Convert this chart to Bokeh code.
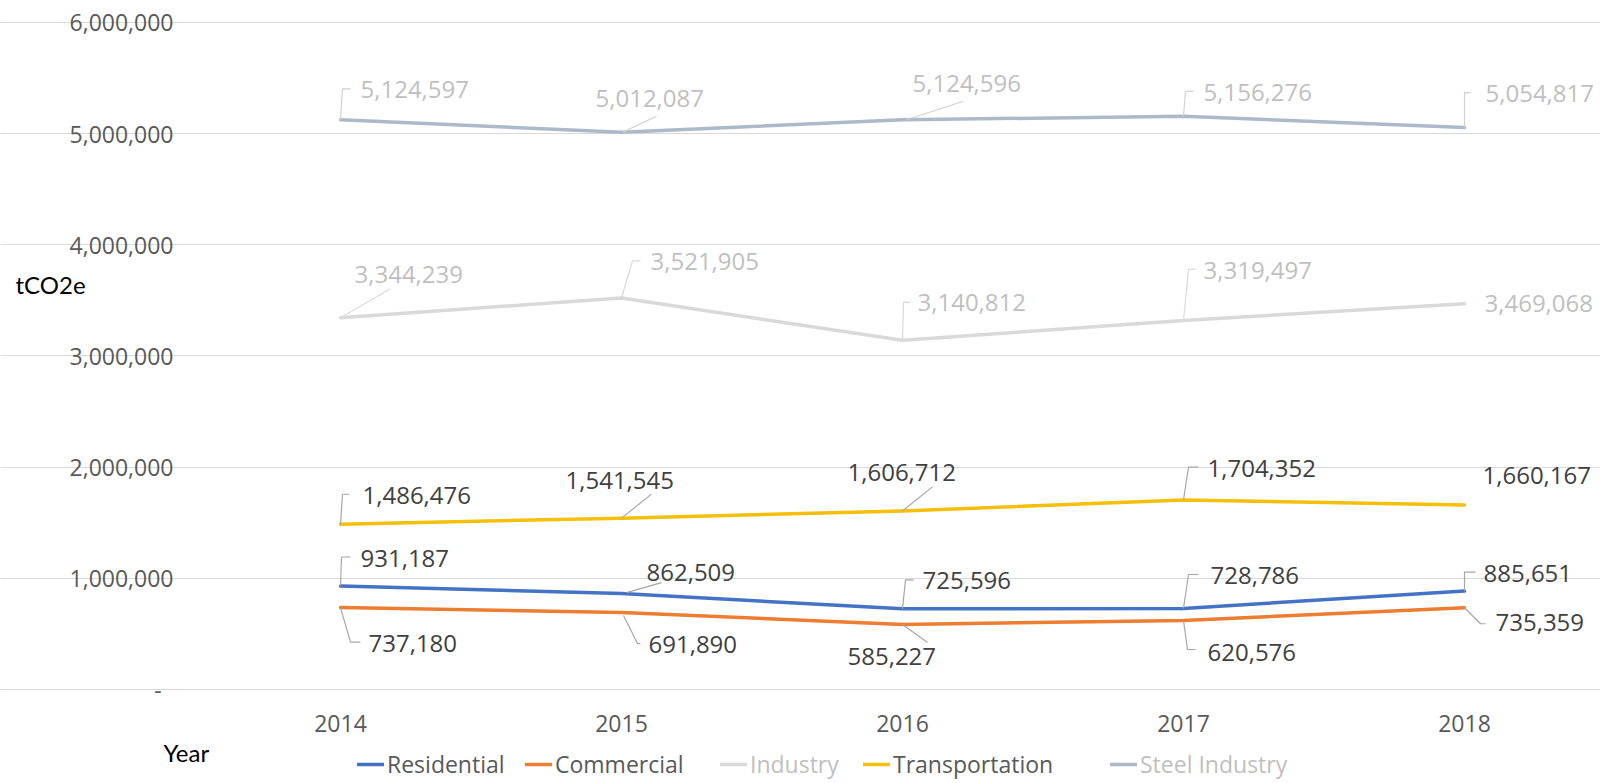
from bokeh.plotting import figure
from bokeh.models import (Range1d, NumeralTickFormatter, Legend, LegendItem,
                          Label, ColumnDataSource, LinearAxis, FixedTicker, Grid)
from bokeh.core.properties import value
from bokeh.embed import file_html
from bokeh.resources import INLINE

# ---------------- data ----------------
years = ["2014", "2015", "2016", "2017", "2018"]
residential = [931187, 862509, 725596, 728786, 885651]
commercial = [737180, 691890, 585227, 620576, 735359]
industry = [3344239, 3521905, 3140812, 3319497, 3469068]
transportation = [1486476, 1541545, 1606712, 1704352, 1660167]
steel_industry = [5124597, 5012087, 5124596, 5156276, 5054817]
y_ticks = [0, 1000000, 2000000, 3000000, 4000000, 5000000, 6000000]

# ---------------- layout (pixel geometry of the frame) ----------------
W, H = 1600, 783
X_PX0, X_STEP = 340.0, 281.0        # pixel of first category, pixels per category
Y_PX0, Y_PX_PER_M = 689.0, 111.17   # pixel of value 0, pixels per million
X0 = -X_PX0 / X_STEP
X1 = X0 + W / X_STEP
Y1 = Y_PX0 / Y_PX_PER_M * 1e6
Y0 = Y1 - H / Y_PX_PER_M * 1e6
PXX = X_STEP
PXY = Y_PX_PER_M / 1e6
PLOT_L = 200      # left edge of plot area (pixels)
PLOT_B = 700      # bottom of plot area (pixels)


def sx(px):
    return X0 + px / PXX


def sy(py):
    return Y1 - py / PXY


FONT = "Open Sans"
DARK = "#404040"
LIGHT = "#bfbfbf"
TICK = "#595959"

p = figure(width=W, height=H, x_range=Range1d(X0, X1), y_range=Range1d(Y0, Y1),
           output_backend="svg", toolbar_location=None,
           x_axis_location=None, y_axis_location=None, min_border=0)
p.outline_line_color = None
p.background_fill_color = "white"
p.border_fill_color = "white"
p.grid.visible = False

yaxis = LinearAxis(fixed_location=sx(PLOT_L), ticker=FixedTicker(ticks=y_ticks),
                   formatter=NumeralTickFormatter(format="0,0"),
                   major_label_overrides={0: "-\u00a0\u00a0"})
xaxis = LinearAxis(fixed_location=sy(PLOT_B),
                   ticker=FixedTicker(ticks=list(range(len(years)))),
                   major_label_overrides={i: y for i, y in enumerate(years)})
for ax in (xaxis, yaxis):
    ax.axis_line_color = None
    ax.major_tick_line_color = None
    ax.minor_tick_line_color = None
    ax.major_label_text_font = FONT
    ax.major_label_text_color = TICK
yaxis.major_label_text_font_size = "23px"
yaxis.major_label_standoff = 21
xaxis.major_label_text_font_size = "23px"
xaxis.major_label_standoff = 8
p.add_layout(yaxis, "left")
p.add_layout(xaxis, "below")
p.add_layout(Grid(dimension=1, ticker=FixedTicker(ticks=y_ticks),
                  bounds=(sx(PLOT_L), X1), grid_line_color="#d9d9d9",
                  grid_line_width=1))

xs = list(range(len(years)))

series = [
    ("Residential", residential, "#4472c4", DARK, "#a6a6a6"),
    ("Commercial", commercial, "#ed7d31", DARK, "#a6a6a6"),
    ("Industry", industry, "#d9d9d9", LIGHT, "#d9d9d9"),
    ("Transportation", transportation, "#f5bf0a", DARK, "#a6a6a6"),
    ("Steel Industry", steel_industry, "#adb9ca", LIGHT, "#d0d0d0"),
]

# label placement (pixel offsets from each point: text left/centre, leader polyline)
label_layout = {
    "Steel Industry": [
        ((20, 30), [(0, 0), (2, 31), (10, 31)]),
        ((-26, 34), [(1, 0), (35, 16)]),
        ((10, 36), [(4, 0), (61, 18.5)]),
        ((20, 24), [(0, 0), (2, 25), (10, 25)]),
        ((21, 34), [(0, 0), (0, 35), (6, 35)]),
    ],
    "Industry": [
        ((14, 43), [(0, 0), (50, 29)]),
        ((29, 36), [(0, 0), (11, 37), (19, 37)]),
        ((15, 38), [(0, 0), (1, 38), (8, 38)]),
        ((20, 50), [(0, 0), (5, 51), (12, 51)]),
        ((20, 0), []),
    ],
    "Transportation": [
        ((22, 29), [(0, 0), (2, 30), (9, 30)]),
        ((-56, 38), [(0, 0), (30, 24)]),
        ((-55, 38), [(0, 0), (30, 24)]),
        ((24, 32), [(0, 0), (5, 33), (15, 33)]),
        ((18, 29), []),
    ],
    "Residential": [
        ((20, 27.5), [(0, 0), (1, 29), (10, 29)]),
        ((25, 21), [(5, 1), (40, 11)]),
        ((20, 28.3), [(0, 0), (3, 29), (11, 29)]),
        ((27, 33), [(0, 0), (5, 34), (15, 34)]),
        ((19, 17.5), [(0, 0), (0, 19), (11, 19)]),
    ],
    "Commercial": [
        ((28, -35.5), [(0, 0), (10, -34.6), (20, -34.6)]),
        ((27, -32), [(2, -3), (16, -31), (19, -31)]),
        ((-55, -32), [(0, 0), (25, -18)]),
        ((24, -32), [(0, 0), (4, -29), (12, -29)]),
        ((31, -15), [(0, 0), (16, -16), (21, -16)]),
    ],
}

line_renderers = {}
for name, vals, color, _, _ in series:
    r = p.line(x=xs, y=vals, line_color=color, line_width=3.5,
               line_join="round", line_cap="round")
    line_renderers[name] = r

for name, vals, color, tcolor, lcolor in series:
    lay = label_layout[name]
    lxs, lys = [], []
    for i, v in enumerate(vals):
        pts = lay[i][1]
        if pts:
            lxs.append([xs[i] + ox / PXX for ox, oy in pts])
            lys.append([v + oy / PXY for ox, oy in pts])
    if lxs:
        p.multi_line(xs=lxs, ys=lys, line_color=lcolor, line_width=1.2)
    src = ColumnDataSource(dict(
        x=xs, y=vals, text=[f"{v:,}" for v in vals],
        xo=[l[0][0] for l in lay], yo=[-l[0][1] for l in lay]))
    p.text(x="x", y="y", text="text", x_offset="xo", y_offset="yo", source=src,
           text_font=value(FONT), text_font_size="24px", text_color=tcolor,
           text_align="left", text_baseline="middle")

# legend: one entry per Legend so each label keeps its own colour
legend_x = {"Residential": 357, "Commercial": 525, "Industry": 720,
            "Transportation": 863, "Steel Industry": 1110}
LEG_CENTER = 765
LEG_H = 30
for name, vals, color, tcolor, _ in series:
    leg = Legend(items=[LegendItem(label=name, renderers=[line_renderers[name]])],
                 location=(legend_x[name], H - (LEG_CENTER + LEG_H / 2)),
                 orientation="horizontal", glyph_width=27, glyph_height=LEG_H,
                 label_height=LEG_H, label_standoff=3, padding=0, margin=0,
                 spacing=0, border_line_color=None, background_fill_alpha=0,
                 label_text_font=FONT, label_text_font_size="23px",
                 label_text_color=TICK if tcolor == DARK else LIGHT)
    p.add_layout(leg)

p.add_layout(Label(x=sx(15), y=sy(284), text="tCO2e", text_font="Lato",
                   text_font_size="24px", text_color="black",
                   text_align="left", text_baseline="middle"))
p.add_layout(Label(x=sx(163), y=sy(752), text="Year", text_font="Lato",
                   text_font_size="24px", text_color="black",
                   text_align="left", text_baseline="middle"))

open("out.html", "w").write(file_html(p, INLINE))
